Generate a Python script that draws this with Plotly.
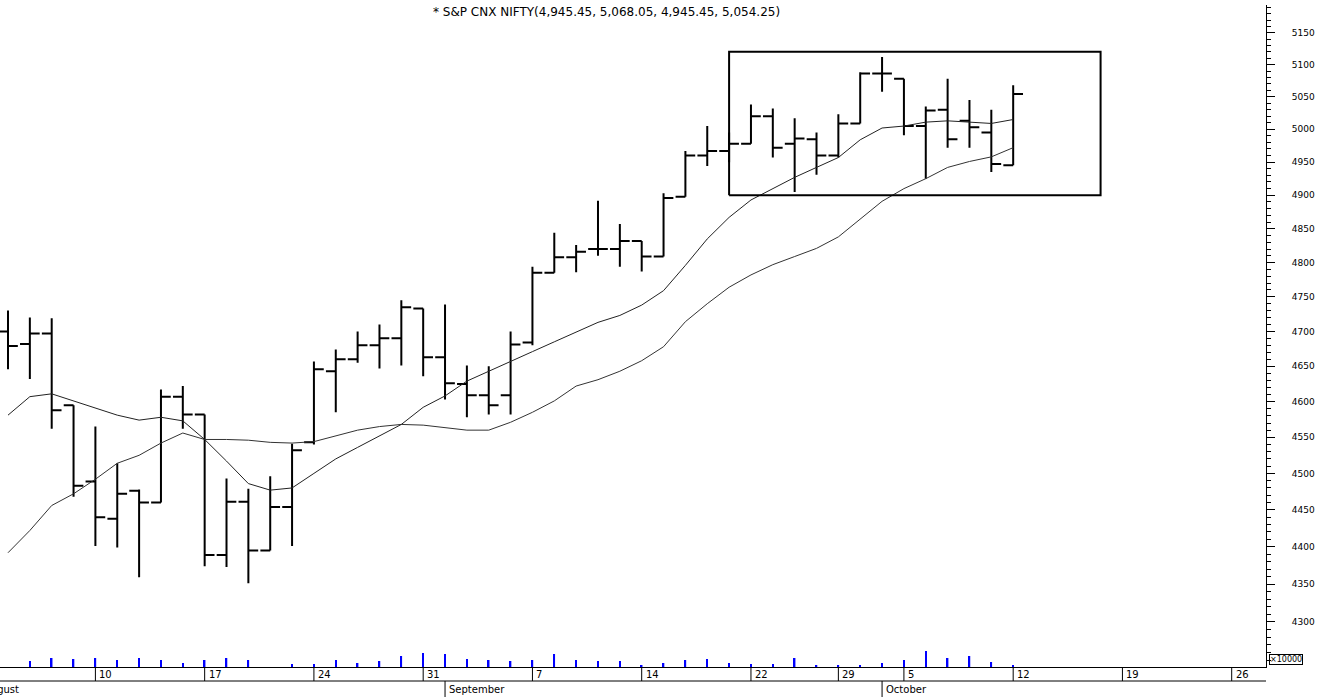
import math
import plotly.graph_objects as go

# ---------------- data ----------------
dates = ["Aug 4", "Aug 5", "Aug 6", "Aug 7",
         "Aug 10", "Aug 11", "Aug 12", "Aug 13", "Aug 14",
         "Aug 17", "Aug 18", "Aug 19", "Aug 20", "Aug 21",
         "Aug 24", "Aug 25", "Aug 26", "Aug 27", "Aug 28",
         "Aug 31", "Sep 1", "Sep 2", "Sep 3", "Sep 4",
         "Sep 7", "Sep 8", "Sep 9", "Sep 10", "Sep 11",
         "Sep 14", "Sep 15", "Sep 16", "Sep 17", "Sep 18",
         "Sep 22", "Sep 23", "Sep 24", "Sep 25",
         "Sep 29", "Sep 30", "Oct 1",
         "Oct 5", "Oct 6", "Oct 7", "Oct 8", "Oct 9", "Oct 12"]

opens = [4700, 4682, 4697, 4595, 4489, 4438, 4476, 4460, 4607, 4582,
         4389, 4461, 4395, 4454, 4543, 4643, 4660, 4680, 4690, 4733,
         4663, 4625, 4609, 4609, 4684, 4785, 4808, 4820, 4820, 4832,
         4809, 4898, 4960, 4967, 4978, 5020, 4978, 4985, 4960, 5009,
         5086, 5078, 5005, 5030, 5013, 4995, 4945.45]
highs = [4730, 4720, 4719, 4595, 4565, 4514, 4478, 4617, 4622, 4582,
         4493, 4479, 4496, 4541, 4657, 4674, 4700, 4710, 4745, 4733,
         4739, 4651, 4650, 4700, 4794, 4844, 4826, 4892, 4857, 4832,
         4903, 4967, 5005, 4995, 5038, 5032, 5017, 4995, 5023, 5088,
         5112, 5078, 5035, 5078, 5045, 5030, 5068.05]
lows = [4646, 4632, 4562, 4468, 4401, 4399, 4359, 4460, 4562, 4374,
        4373, 4351, 4395, 4401, 4540, 4585, 4655, 4647, 4651, 4636,
        4603, 4578, 4582, 4582, 4680, 4785, 4786, 4810, 4794, 4787,
        4809, 4898, 4944, 4950, 4978, 4957, 4905, 4931, 4957, 5009,
        5058, 4991, 4925, 4972, 4972, 4935, 4945.45]
closes = [4679, 4697, 4588, 4483, 4440, 4472, 4460, 4607, 4582, 4389,
          4461, 4395, 4454, 4532, 4646, 4660, 4680, 4690, 4735, 4663,
          4626, 4609, 4595, 4681, 4785, 4808, 4816, 4820, 4832, 4809,
          4896, 4960, 4967, 4978, 5020, 4972, 4986, 4960, 5009, 5086,
          5086, 5005, 5029, 4985, 5003, 4947, 5054.25]

ma_fast = [4581, 4607, 4611, 4601, 4592, 4581, 4574, 4578, 4573, 4547,
           4517, 4486, 4477, 4480, 4500, 4520, 4536, 4552, 4568, 4592,
           4608, 4629, 4643, 4658, 4671, 4685, 4699, 4713, 4723, 4738,
           4759, 4796, 4835, 4867, 4893, 4910, 4927, 4942, 4957, 4984,
           5002, 5005, 5011, 5013, 5011, 5009, 5015]
ma_slow = [4392, 4422, 4456, 4472, 4492, 4514, 4525, 4542, 4556, 4547,
           4547, 4546, 4543, 4542, 4544, 4552, 4560, 4565, 4568, 4567,
           4563, 4560, 4560, 4571, 4585, 4601, 4622, 4631, 4643, 4658,
           4678, 4714, 4740, 4764, 4782, 4797, 4809, 4821, 4838, 4864,
           4891, 4910, 4925, 4942, 4951, 4958, 4972]

volumes = [0, 6, 9, 8, 9, 7, 9, 7, 4, 7,
           9, 7, 0, 3, 3, 7, 4, 6, 11, 14,
           13, 8, 7, 6, 7, 13, 7, 6, 6, 2,
           4, 7, 8, 4, 3, 3, 9, 2, 2, 2,
           4, 7, 16, 9, 11, 5, 2]

week_labels = ["10", "17", "24", "31", "7", "14", "22", "29", "5", "12", "19", "26"]
week_index = [4, 9, 14, 19, 24, 29, 34, 38, 41, 46, 51, 56]
month_labels = ["August", "September", "October"]
month_index = [-1, 20, 40]

price_ticks = list(range(4300, 5151, 50))
price_minor = list(range(4250, 5191, 10))

box_x = [33, 50]          # highlighted consolidation box (trading-day index)
box_y = [4900, 5120]

title_text = "* S&P CNX NIFTY(4,945.45, 5,068.05, 4,945.45, 5,054.25)"

# ---------------- figure ----------------
idx = list(range(len(dates)))
FONT = "DejaVu Sans"
W, H = 1328, 697
M_L, M_R, M_T, M_B = 0, 62, 5, 30
plot_w = W - M_L - M_R
plot_h = H - M_T - M_B
x_lo = -0.366
x_hi = 57.57


def xpaper(i):
    return (i - x_lo) / (x_hi - x_lo)


fig = go.Figure()

fig.add_trace(go.Scatter(x=idx, y=ma_slow, mode="lines",
                         line=dict(color="#333333", width=1), hoverinfo="skip"))
fig.add_trace(go.Scatter(x=idx, y=ma_fast, mode="lines",
                         line=dict(color="#222222", width=1), hoverinfo="skip"))

fig.add_trace(go.Ohlc(x=idx, open=opens, high=highs, low=lows, close=closes,
                      increasing=dict(line=dict(color="black", width=2)),
                      decreasing=dict(line=dict(color="black", width=2)),
                      tickwidth=0.45, text=dates))

fig.add_trace(go.Scatter(x=[box_x[0], box_x[1], box_x[1], box_x[0], box_x[0]],
                         y=[box_y[0], box_y[0], box_y[1], box_y[1], box_y[0]],
                         mode="lines", line=dict(color="black", width=2),
                         hoverinfo="skip"))

fig.add_trace(go.Bar(x=idx, y=volumes, width=0.07, marker_color="#0000ff",
                     marker_line_width=0, yaxis="y2", hoverinfo="skip"))

fig.update_layout(
    width=W, height=H,
    margin=dict(l=M_L, r=M_R, t=M_T, b=M_B),
    paper_bgcolor="white", plot_bgcolor="white",
    showlegend=False,
    font=dict(family=FONT, size=9, color="black"),
    xaxis=dict(range=[x_lo, x_hi], showgrid=False, zeroline=False,
               showticklabels=False, ticks="", showline=True,
               linecolor="black", linewidth=1,
               rangeslider=dict(visible=False), fixedrange=True),
    yaxis=dict(type="log", side="right",
               range=[math.log10(4241), math.log10(5194)],
               showgrid=False, zeroline=False, showline=True,
               linecolor="black", linewidth=1,
               tickmode="array", tickvals=price_ticks,
               ticktext=[str(v) for v in price_ticks],
               ticks="outside", ticklen=8, tickcolor="black", tickwidth=1,
               ticklabelstandoff=15,
               tickfont=dict(family=FONT, size=9, color="black"),
               minor=dict(tickmode="array", tickvals=price_minor,
                          ticks="outside", ticklen=4, tickcolor="black"),
               fixedrange=True),
    yaxis2=dict(domain=[0, 27 / plot_h], range=[0, 27], anchor="x",
                showgrid=False, zeroline=False, showline=False,
                showticklabels=False, ticks="", fixedrange=True),
)

shapes = []
annotations = []
row1 = -14 / plot_h
row2 = -30 / plot_h
for i, lab in zip(week_index, week_labels):
    shapes.append(dict(type="line", xref="paper", yref="paper",
                       x0=xpaper(i), x1=xpaper(i), y0=0, y1=row1,
                       line=dict(color="black", width=1)))
    annotations.append(dict(x=xpaper(i), y=-7 / plot_h, xref="paper",
                            yref="paper", text=lab, showarrow=False,
                            xanchor="left", yanchor="middle", xshift=2,
                            font=dict(family=FONT, size=10, color="black")))
# row separator line
shapes.append(dict(type="line", xref="paper", yref="paper", x0=0, x1=1,
                   y0=row1, y1=row1, line=dict(color="black", width=1)))
for i, lab in zip(month_index, month_labels):
    shapes.append(dict(type="line", xref="paper", yref="paper",
                       x0=xpaper(i), x1=xpaper(i), y0=row1, y1=row2,
                       line=dict(color="black", width=1)))
    annotations.append(dict(x=xpaper(i), y=-22 / plot_h, xref="paper",
                            yref="paper", text=lab, showarrow=False,
                            xanchor="left", yanchor="middle",
                            xshift=-4 if i < 0 else 2,
                            font=dict(family=FONT, size=10, color="black")))

annotations.append(dict(x=606 / plot_w, y=1 - 7 / plot_h,
                        xref="paper", yref="paper", text=title_text,
                        showarrow=False, xanchor="center", yanchor="middle",
                        font=dict(family=FONT, size=12, color="black")))

annotations.append(dict(x=1, y=8 / plot_h, xref="paper", yref="paper",
                        text="×10000", showarrow=False, xanchor="left",
                        yanchor="middle", xshift=3,
                        bordercolor="black", borderwidth=1, borderpad=0,
                        font=dict(family=FONT, size=8, color="black")))

fig.update_layout(shapes=shapes, annotations=annotations)

fig.write_html("out.html", config={"displayModeBar": False},
               post_script="document.body.style.margin='0';"
                           "document.body.style.overflow='hidden';")
